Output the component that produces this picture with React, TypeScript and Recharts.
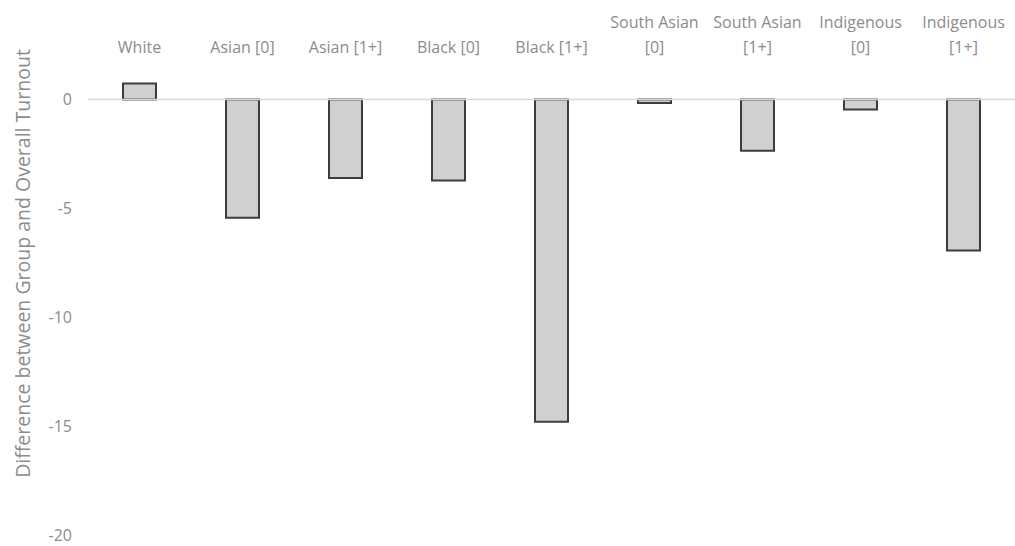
import React from 'react';
import { BarChart, Bar, XAxis, YAxis, ReferenceLine } from 'recharts';

const GROUPS = [
  'White',
  'Asian [0]',
  'Asian [1+]',
  'Black [0]',
  'Black [1+]',
  'South Asian|[0]',
  'South Asian|[1+]',
  'Indigenous|[0]',
  'Indigenous|[1+]',
];
const TURNOUT_DIFF = [0.74, -5.43, -3.6, -3.72, -14.8, -0.16, -2.35, -0.46, -6.93];
const Y_TICKS = [0, -5, -10, -15, -20];

const data = GROUPS.map((g, i) => ({ group: g, diff: TURNOUT_DIFF[i] }));

const FONT = '"Open Sans", "Liberation Sans", sans-serif';
const TEXT = '#8c8c8c';

// category labels sit above the plot, bottom-aligned, split on '|'
const GroupTick = (props: any) => {
  const { x, payload } = props;
  const lines = String(payload.value).split('|');
  return (
    <g>
      {lines.map((ln, i) => (
        <text
          key={i}
          x={x}
          y={53 - (lines.length - 1 - i) * 25}
          textAnchor="middle"
          fill={TEXT}
          fontSize={16}
          fontFamily={FONT}
        >
          {ln}
        </text>
      ))}
    </g>
  );
};

export default function App() {
  return (
    <div style={{ position: 'absolute', left: 0, top: 0, width: 1015, height: 546, background: '#fff' }}>
      <BarChart
        width={1015}
        height={546}
        data={data}
        margin={{ top: 0, right: 0, bottom: 11, left: 0 }}
      >
        <XAxis
          dataKey="group"
          orientation="top"
          axisLine={false}
          tickLine={false}
          tick={<GroupTick />}
          interval={0}
          height={56}
        />
        <YAxis
          domain={[-20, 2]}
          ticks={Y_TICKS}
          axisLine={false}
          tickLine={false}
          width={88}
          tick={{ fill: TEXT, fontSize: 16, fontFamily: FONT, dx: -8 }}
          label={{
            value: 'Difference between Group and Overall Turnout',
            angle: -90,
            position: 'center',
            dx: -21,
            dy: -32,
            fill: TEXT,
            fontSize: 19.5,
            fontFamily: FONT,
          }}
        />
        <ReferenceLine y={0} stroke="#d9d9d9" strokeWidth={1.5} />
        <Bar
          dataKey="diff"
          fill="#d0d0d0"
          stroke="#3c3c3c"
          strokeWidth={2}
          barSize={33}
          isAnimationActive={false}
        />
      </BarChart>
    </div>
  );
}
